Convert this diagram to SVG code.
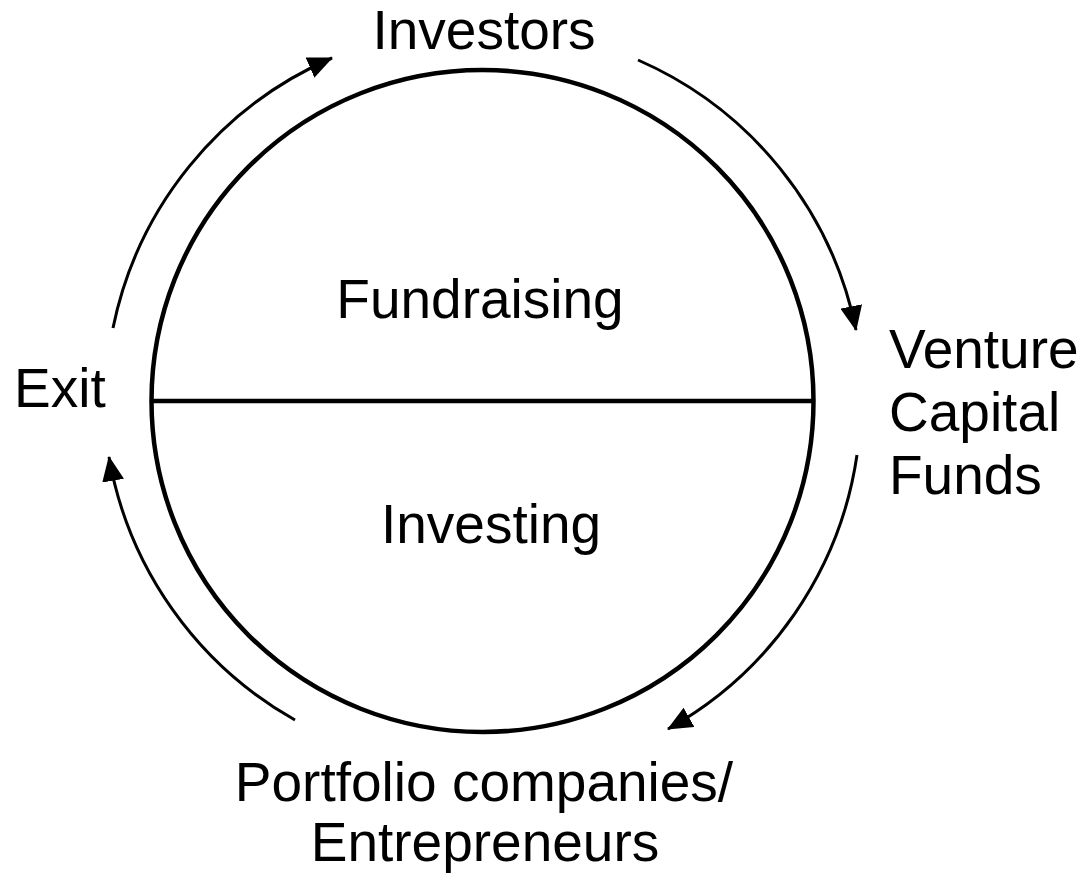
<svg xmlns="http://www.w3.org/2000/svg" width="1084" height="875" viewBox="0 0 1084 875">
<style>
text{font-family:"Liberation Sans",Arial,sans-serif;font-size:55px;fill:#000}
.main{fill:none;stroke:#000;stroke-width:4.5}
.arc{fill:none;stroke:#000;stroke-width:3;marker-end:url(#ah)}
</style>
<defs>
<marker id="ah" markerUnits="userSpaceOnUse" markerWidth="26" markerHeight="22" refX="24" refY="11" orient="auto" viewBox="0 0 26 22">
<path d="M0,0 L25,11 L0,22 Z" fill="#000"/>
</marker>
</defs>
<rect width="1084" height="875" fill="#fff"/>
<g id="circle">
<circle class="main" cx="482.5" cy="401" r="331"/>
<line class="main" x1="151" y1="401" x2="814" y2="401"/>
</g>
<g id="fundraising"><text x="480" y="318" text-anchor="middle">Fundraising</text></g>
<g id="investing"><text x="491" y="543" text-anchor="middle">Investing</text></g>
<g id="investors"><text x="484" y="49" text-anchor="middle">Investors</text></g>
<g id="vcfunds"><text x="889" y="368">Venture</text><text x="889" y="431">Capital</text><text x="889" y="494">Funds</text></g>
<g id="portfolio"><text x="484" y="801" text-anchor="middle">Portfolio companies/</text><text x="485" y="861" text-anchor="middle">Entrepreneurs</text></g>
<g id="exit"><text x="14" y="407">Exit</text></g>
<g id="connectors">
<path class="arc" d="M113,328 A376,376 0 0 1 332,58"/>
<path class="arc" d="M638,60 A376,376 0 0 1 856,330"/>
<path class="arc" d="M857,455 A376,376 0 0 1 668,729"/>
<path class="arc" d="M295,720 A376,376 0 0 1 109,457"/>
</g>
</svg>
